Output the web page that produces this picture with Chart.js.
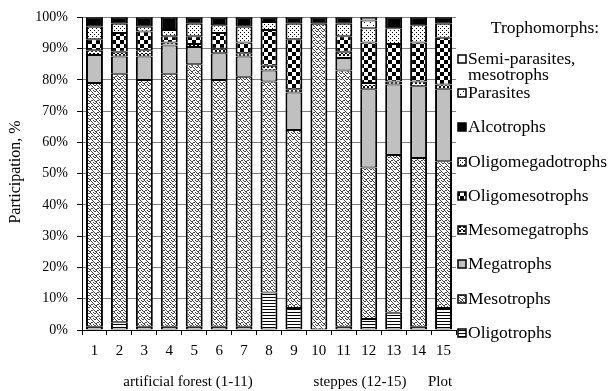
<!DOCTYPE html>
<html>
<head>
<meta charset="utf-8">
<script src="https://cdn.jsdelivr.net/npm/chart.js@4.4.0/dist/chart.umd.min.js"></script>
<style>
  html, body { margin: 0; padding: 0; background: #fff; }
  #grafico { display: block; }
</style>
</head>
<body>
<canvas id="grafico" width="616" height="391"></canvas>
<script>
// plots 1-15, shares in % (bottom of the stack first)
const plots = ['1', '2', '3', '4', '5', '6', '7', '8', '9', '10', '11', '12', '13', '14', '15'];
const oligotrophs       = [1, 2.5, 1, 1, 1, 1, 1, 12, 7, 0, 1, 3.5, 5.5, 1, 7];
const mesotrophs        = [78, 79.5, 79, 81, 84, 79, 80, 67.5, 57, 98, 82, 48.5, 50.5, 54, 47];
const megatrophs        = [9, 5.5, 7.5, 9, 5.5, 8.5, 6.5, 3.5, 12, 0, 4, 25, 22.5, 23, 23];
const mesomegatrophs    = [1.5, 1.5, 2, 1, 1, 1.5, 1, 1.5, 1, 0, 2, 2, 1, 1.5, 1.5];
const oligomesotrophs   = [3.5, 6, 6, 2, 2.5, 5, 3.5, 11.5, 16, 0, 5, 13, 12, 12.5, 15];
const oligomegadotrophs = [4, 3, 1.5, 2, 4, 2.5, 5, 2.5, 5, 0, 4, 4.5, 5, 5.5, 4.5];
const alcotrophs        = [3, 2, 3, 4, 2, 2.5, 3, 1.5, 2, 2, 2, 0, 3.5, 2.5, 2];
const parasites         = [0, 0, 0, 0, 0, 0, 0, 0, 0, 0, 0, 2.5, 0, 0, 0];
const semiParasites     = [0, 0, 0, 0, 0, 0, 0, 0, 0, 0, 0, 1, 0, 0, 0];
const yTicks = [0, 10, 20, 30, 40, 50, 60, 70, 80, 90, 100];

const fonte = "'Liberation Serif', 'Times New Roman', serif";

function padrao(w, h, desenho) {
    var c = document.createElement('canvas');
    c.width = w; c.height = h;
    var g = c.getContext('2d');
    g.fillStyle = '#fff';
    g.fillRect(0, 0, w, h);
    desenho(g);
    return g.createPattern(c, 'repeat');
}

function px(g, cor, pts) {
    g.fillStyle = cor;
    pts.forEach(p => g.fillRect(p[0], p[1], 1, 1));
}

const fills = {
    linhas: padrao(4, 3, g => { g.fillStyle = '#000'; g.fillRect(0, 0, 4, 1); }),
    ondas: padrao(6, 6, g => {
        px(g, '#444', [[0,0],[1,1],[2,2],[3,3],[4,4],[5,5],[0,5],[1,4],[2,4],[3,0],[4,1],[5,1]]);
    }),
    cinza: '#c0c0c0',
    zigue: padrao(4, 4, g => { px(g, '#000', [[0,2],[1,1],[2,1],[3,2],[0,3],[3,3]]); }),
    xadrez: padrao(8, 8, g => { g.fillStyle = '#000'; g.fillRect(0, 0, 4, 4); g.fillRect(4, 4, 4, 4); }),
    pontos: padrao(4, 4, g => { px(g, '#000', [[0,0],[2,2]]); }),
    preto: '#000',
    parasita: padrao(6, 6, g => { px(g, '#000', [[1,1],[4,4]]); }),
    branco: '#fff'
};

const series = [
    ['Oligotrophs', oligotrophs, fills.linhas],
    ['Mesotrophs', mesotrophs, fills.ondas],
    ['Megatrophs', megatrophs, fills.cinza],
    ['Mesomegatrophs', mesomegatrophs, fills.zigue],
    ['Oligomesotrophs', oligomesotrophs, fills.xadrez],
    ['Oligomegadotrophs', oligomegadotrophs, fills.pontos],
    ['Alcotrophs', alcotrophs, fills.preto],
    ['Parasites', parasites, fills.parasita],
    ['Semi-parasites, mesotrophs', semiParasites, fills.branco]
];

const datasets = series.map(s => ({
    label: s[0],
    data: s[1].map(v => v || null),
    backgroundColor: s[2],
    borderColor: '#000',
    borderWidth: { top: 1, bottom: 1, left: 2, right: 2 },
    borderSkipped: false,
    barPercentage: 0.68,
    categoryPercentage: 1
}));

// texts outside the plot + legend on the right
const extras = {
    id: 'extras',
    afterDraw(chart) {
        var ctx = chart.ctx;
        var a = chart.chartArea;
        ctx.save();
        // heavier outline on top of each column
        ctx.strokeStyle = '#000';
        ctx.lineWidth = 1;
        chart.getDatasetMeta(0).data.forEach(function (bar) {
            ctx.beginPath();
            ctx.moveTo(bar.x - bar.width / 2, a.top + 0.5);
            ctx.lineTo(bar.x + bar.width / 2, a.top + 0.5);
            ctx.stroke();
        });

        ctx.fillStyle = '#000';
        ctx.font = '16px ' + fonte;

        // y title
        ctx.save();
        ctx.translate(16, 172);
        ctx.rotate(-Math.PI / 2);
        ctx.textAlign = 'center';
        ctx.textBaseline = 'middle';
        ctx.fillText('Participation, %', 0, 0);
        ctx.restore();

        // x titles
        ctx.font = '15px ' + fonte;
        ctx.textAlign = 'center';
        ctx.textBaseline = 'middle';
        ctx.fillText('artificial forest (1-11)', 188, 382);
        ctx.fillText('steppes (12-15)', 360, 382);
        ctx.fillText('Plot', 440, 382);

        // legend
        ctx.font = '17.5px ' + fonte;
        ctx.fillText('Trophomorphs:', 545, 28);
        ctx.textAlign = 'left';
        var itens = chart.data.datasets.slice().reverse();
        var yy = [59, 93, 127, 162, 196, 230, 264, 299, 333];
        itens.forEach(function (ds, i) {
            var y = yy[i];
            ctx.fillStyle = ds.backgroundColor;
            ctx.fillRect(458, y - 4, 8, 8);
            ctx.strokeStyle = '#000';
            ctx.lineWidth = 1.5;
            ctx.strokeRect(458, y - 4, 8, 8);
            ctx.fillStyle = '#000';
            var partes = ds.label.split(', ');
            if (partes.length > 1) {
                ctx.fillText(partes[0] + ',', 468, y);
                ctx.fillText(partes[1], 468, y + 16);
            } else {
                ctx.fillText(ds.label, 468, y);
            }
        });
        ctx.restore();
    }
};

var contexto = document.getElementById('grafico').getContext('2d');

window.meuGrafico = new Chart(contexto, {
    type: 'bar',
    data: { labels: plots, datasets: datasets },
    options: {
        responsive: false,
        animation: false,
        devicePixelRatio: 1,
        layout: { padding: { left: 0, right: 160, top: 17, bottom: 0 } },
        plugins: {
            legend: { display: false },
            tooltip: { enabled: false }
        },
        scales: {
            x: {
                stacked: true,
                grid: { drawOnChartArea: false, color: '#000', tickLength: 5, offset: true },
                border: { color: '#000', width: 1 },
                ticks: { color: '#000', font: { family: fonte, size: 15 }, padding: 7, maxRotation: 0 },
                afterFit: s => { s.height = 61; }
            },
            y: {
                stacked: true,
                min: 0,
                max: 100,
                afterBuildTicks: s => { s.ticks = yTicks.map(v => ({ value: v })); },
                grid: { color: '#808080', tickColor: '#000', tickLength: 5 },
                border: { color: '#000', width: 1 },
                ticks: { color: '#000', font: { family: fonte, size: 14 }, padding: 9, callback: v => v + '%' },
                afterFit: s => { s.width = 82; }
            }
        }
    },
    plugins: [extras]
});
</script>
</body>
</html>
